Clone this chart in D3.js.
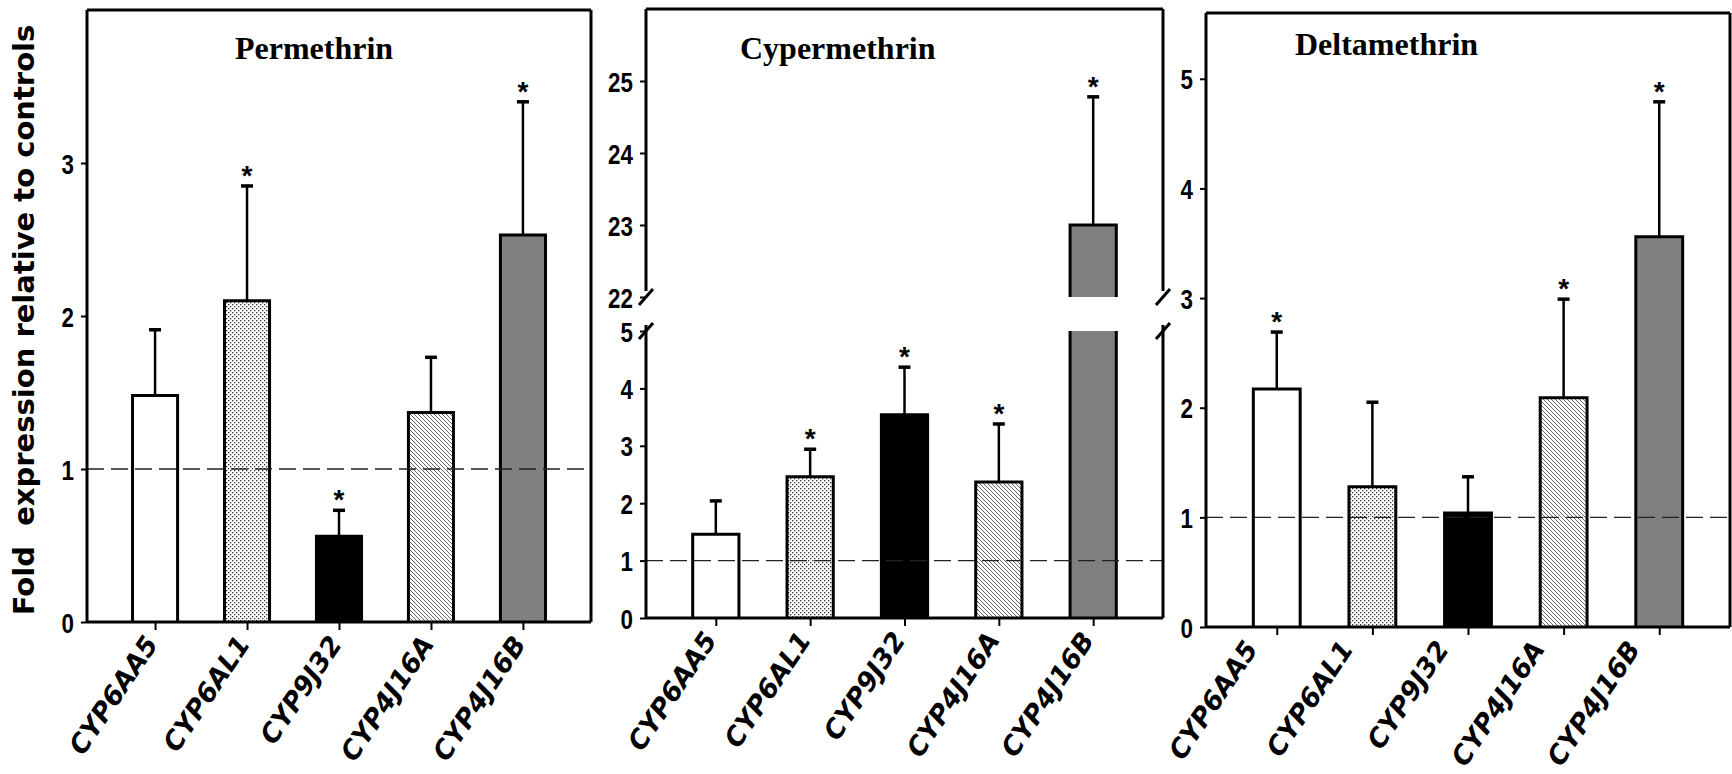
<!DOCTYPE html>
<html>
<head>
<meta charset="utf-8">
<script src="https://cdn.jsdelivr.net/npm/d3@7"></script>
<style>
  body { margin: 0; background: #fff; }
  svg { display: block; }
  .tick-label { font-family: "Liberation Sans Narrow", "Liberation Sans", Arial, sans-serif; font-weight: bold; font-size: 28px; }
  .gene-label { font-family: "DejaVu Sans", Verdana, sans-serif; font-weight: bold; font-style: italic; font-size: 26.5px; }
  .panel-title { font-family: "Liberation Serif", "Times New Roman", serif; font-weight: bold; font-size: 32px; }
  .y-title { font-family: "DejaVu Sans", Verdana, sans-serif; font-weight: bold; font-size: 29px; white-space: pre; }
  .star { font-family: "Liberation Sans", Arial, sans-serif; font-weight: bold; font-size: 28px; }
</style>
</head>
<body>
<div id="chart"></div>
<script>
// genes on the x axis (same order in every panel)
var genes = ["CYP6AA5", "CYP6AL1", "CYP9J32", "CYP4J16A", "CYP4J16B"];

// fold change, upper error and significance
var permethrinMean = [1.48, 2.10, 0.56, 1.37, 2.53];
var permethrinErr  = [0.43, 0.75, 0.17, 0.36, 0.87];
var permethrinSig  = [0, 1, 1, 0, 1];

var cypermethrinMean = [1.46, 2.46, 3.54, 2.37, 23.0];
var cypermethrinErr  = [0.58, 0.48, 0.83, 1.01, 1.78];
var cypermethrinSig  = [0, 1, 1, 1, 1];

var deltamethrinMean = [2.17, 1.28, 1.04, 2.09, 3.56];
var deltamethrinErr  = [0.52, 0.77, 0.33, 0.90, 1.23];
var deltamethrinSig  = [1, 0, 0, 1, 1];

// tick labels
var permethrinTicks = [0, 1, 2, 3];
var cypermethrinLowTicks = [0, 1, 2, 3, 4, 5];
var cypermethrinHighTicks = [22, 23, 24, 25];
var deltamethrinTicks = [0, 1, 2, 3, 4, 5];

var width = 1732,
    height = 774;

var fills = ["#ffffff", "url(#dots)", "#000000", "url(#hatch)", "#808080"];

var panels = [
  {title: "Permethrin", titleX: 235, titleY: 59, labelShift: 4,
   left: 87, right: 591, top: 10, bottom: 622,
   mean: permethrinMean, err: permethrinErr, sig: permethrinSig,
   segments: [{domain: [0, 4], range: [622, 10], ticks: permethrinTicks}]},
  {title: "Cypermethrin", titleX: 740, titleY: 59, labelShift: 2,
   left: 646, right: 1163, top: 9, bottom: 618,
   mean: cypermethrinMean, err: cypermethrinErr, sig: cypermethrinSig,
   segments: [{domain: [0, 5], range: [618, 331], ticks: cypermethrinLowTicks},
              {domain: [22, 26], range: [297, 9], ticks: cypermethrinHighTicks}]},
  {title: "Deltamethrin", titleX: 1295, titleY: 55, labelShift: -18,
   left: 1206, right: 1730, top: 13, bottom: 627,
   mean: deltamethrinMean, err: deltamethrinErr, sig: deltamethrinSig,
   segments: [{domain: [0, 5.6], range: [627, 13], ticks: deltamethrinTicks}]}
];

var svg = d3.select("#chart")
  .append("svg")
    .attr("width", width)
    .attr("height", height);

// fill patterns
var defs = svg.append("defs");

var dots = defs.append("pattern")
    .attr("id", "dots")
    .attr("patternUnits", "userSpaceOnUse")
    .attr("width", 4)
    .attr("height", 4);
dots.append("rect").attr("width", 4).attr("height", 4).attr("fill", "#fff");
dots.append("rect").attr("x", 0).attr("y", 0).attr("width", 1.3).attr("height", 1.3).attr("fill", "#333");
dots.append("rect").attr("x", 2).attr("y", 2).attr("width", 1.3).attr("height", 1.3).attr("fill", "#333");

var hatch = defs.append("pattern")
    .attr("id", "hatch")
    .attr("patternUnits", "userSpaceOnUse")
    .attr("width", 4)
    .attr("height", 4);
hatch.append("rect").attr("width", 4).attr("height", 4).attr("fill", "#fff");
hatch.append("path")
    .attr("d", "M0,0L4,4M-1,3L1,5M3,-1L5,1")
    .attr("stroke", "#666")
    .attr("stroke-width", 1);

// y axis title
svg.append("text")
    .attr("class", "y-title")
    .attr("transform", "translate(34,320) rotate(-90)")
    .attr("text-anchor", "middle")
    .text("Fold  expression relative to controls");

var drawPanel = function(p) {
  var g = svg.append("g");

  var x = d3.scalePoint()
    .domain(genes)
    .range([p.left, p.right])
    .padding(0.74);
  var barW = x.step() * 0.49;

  p.segments.forEach(function(s) {
    s.scale = d3.scaleLinear().domain(s.domain).range(s.range);
  });

  var y = function(v) {
    for (var i = 0; i < p.segments.length; i++) {
      var s = p.segments[i];
      if (v >= s.domain[0] && v <= s.domain[1]) return s.scale(v);
    }
    return p.segments[p.segments.length - 1].scale(v);
  };

  var data = genes.map(function(d, i) {
    return {gene: d, mean: p.mean[i], err: p.err[i], sig: p.sig[i], fill: fills[i]};
  });

  // bars, one piece per axis segment
  data.forEach(function(d) {
    var x0 = x(d.gene) - barW / 2,
        x1 = x(d.gene) + barW / 2;
    p.segments.forEach(function(s) {
      if (d.mean <= s.domain[0]) return;
      var hi = Math.min(d.mean, s.domain[1]);
      var yb = s.scale(s.domain[0]),
          yt = s.scale(hi);
      g.append("rect")
        .attr("x", x0)
        .attr("y", yt)
        .attr("width", barW)
        .attr("height", yb - yt)
        .attr("fill", d.fill);
      var path = d3.path();
      path.moveTo(x0, yb);
      path.lineTo(x0, yt);
      if (hi === d.mean) path.lineTo(x1, yt); else path.moveTo(x1, yt);
      path.lineTo(x1, yb);
      g.append("path")
        .attr("d", path.toString())
        .attr("fill", "none")
        .attr("stroke", "#000")
        .attr("stroke-width", 3);
    });
  });

  // error bars (upper only)
  var errs = g.selectAll(".err")
    .data(data)
    .enter()
    .append("g")
      .attr("class", "err");
  errs.append("line")
    .attr("x1", function(d) { return x(d.gene); })
    .attr("x2", function(d) { return x(d.gene); })
    .attr("y1", function(d) { return y(d.mean); })
    .attr("y2", function(d) { return y(d.mean + d.err); })
    .attr("stroke", "#000")
    .attr("stroke-width", 2.5);
  errs.append("line")
    .attr("x1", function(d) { return x(d.gene) - 6; })
    .attr("x2", function(d) { return x(d.gene) + 6; })
    .attr("y1", function(d) { return y(d.mean + d.err); })
    .attr("y2", function(d) { return y(d.mean + d.err); })
    .attr("stroke", "#000")
    .attr("stroke-width", 3.5);

  // significance stars
  g.selectAll(".star")
    .data(data.filter(function(d) { return d.sig; }))
    .enter()
    .append("text")
      .attr("class", "star")
      .attr("text-anchor", "middle")
      .attr("x", function(d) { return x(d.gene); })
      .attr("y", function(d) { return y(d.mean + d.err) - 1; })
      .text("*");

  // reference line at 1
  g.append("line")
    .attr("x1", p.left)
    .attr("x2", p.right)
    .attr("y1", y(1))
    .attr("y2", y(1))
    .attr("stroke", "#222")
    .attr("stroke-width", 1.3)
    .attr("stroke-dasharray", "17,7");

  // y axes
  p.segments.forEach(function(s) {
    var ax = g.append("g")
      .attr("transform", "translate(" + p.left + ",0)")
      .call(d3.axisLeft(s.scale).tickValues(s.ticks).tickSize(6).tickPadding(7).tickFormat(d3.format("d")));
    ax.attr("font-family", null).attr("font-size", null);
    ax.select(".domain").remove();
    ax.selectAll("line").attr("stroke-width", 2);
    // narrow the digits like a condensed face
    ax.selectAll("text")
      .attr("class", "tick-label")
      .attr("dy", "0.36em")
      .attr("x", -13 / 0.8)
      .attr("transform", "scale(0.8,1)");
  });

  // x axis ticks
  var xa = g.append("g")
    .attr("transform", "translate(0," + p.bottom + ")")
    .call(d3.axisBottom(x).tickSize(8).tickFormat(""));
  xa.select(".domain").remove();
  xa.selectAll("line").attr("stroke-width", 2);

  // gene labels
  g.selectAll(".gene-label")
    .data(genes)
    .enter()
    .append("text")
      .attr("class", "gene-label")
      .attr("text-anchor", "end")
      .attr("transform", function(d) {
        return "translate(" + (x(d) + p.labelShift) + "," + (p.bottom + 22) + ") rotate(-56)";
      })
      .text(function(d) { return d; });

  // frame
  var frame = d3.path();
  frame.moveTo(p.left, p.bottom);
  frame.lineTo(p.right, p.bottom);
  frame.moveTo(p.left, p.top);
  frame.lineTo(p.right, p.top);
  if (p.segments.length === 1) {
    frame.moveTo(p.left, p.top); frame.lineTo(p.left, p.bottom);
    frame.moveTo(p.right, p.top); frame.lineTo(p.right, p.bottom);
  } else {
    var yBreakHigh = p.segments[1].scale(p.segments[1].domain[0]),
        yBreakLow = p.segments[0].scale(p.segments[0].domain[1]);
    [p.left, p.right].forEach(function(xx) {
      frame.moveTo(xx, p.top); frame.lineTo(xx, yBreakHigh - 6);
      frame.moveTo(xx, yBreakLow - 6); frame.lineTo(xx, p.bottom);
    });
  }
  g.append("path")
    .attr("d", frame.toString())
    .attr("fill", "none")
    .attr("stroke", "#000")
    .attr("stroke-width", 3);

  // break marks
  if (p.segments.length > 1) {
    var marks = d3.path();
    [p.left, p.right].forEach(function(xx) {
      [yBreakHigh, yBreakLow].forEach(function(yy) {
        marks.moveTo(xx - 7, yy + 8);
        marks.lineTo(xx + 7, yy - 8);
      });
    });
    g.append("path")
      .attr("d", marks.toString())
      .attr("stroke", "#000")
      .attr("stroke-width", 3);
  }

  // title
  g.append("text")
    .attr("class", "panel-title")
    .attr("x", p.titleX)
    .attr("y", p.titleY)
    .text(p.title);
};

panels.forEach(drawPanel);
</script>
</body>
</html>
